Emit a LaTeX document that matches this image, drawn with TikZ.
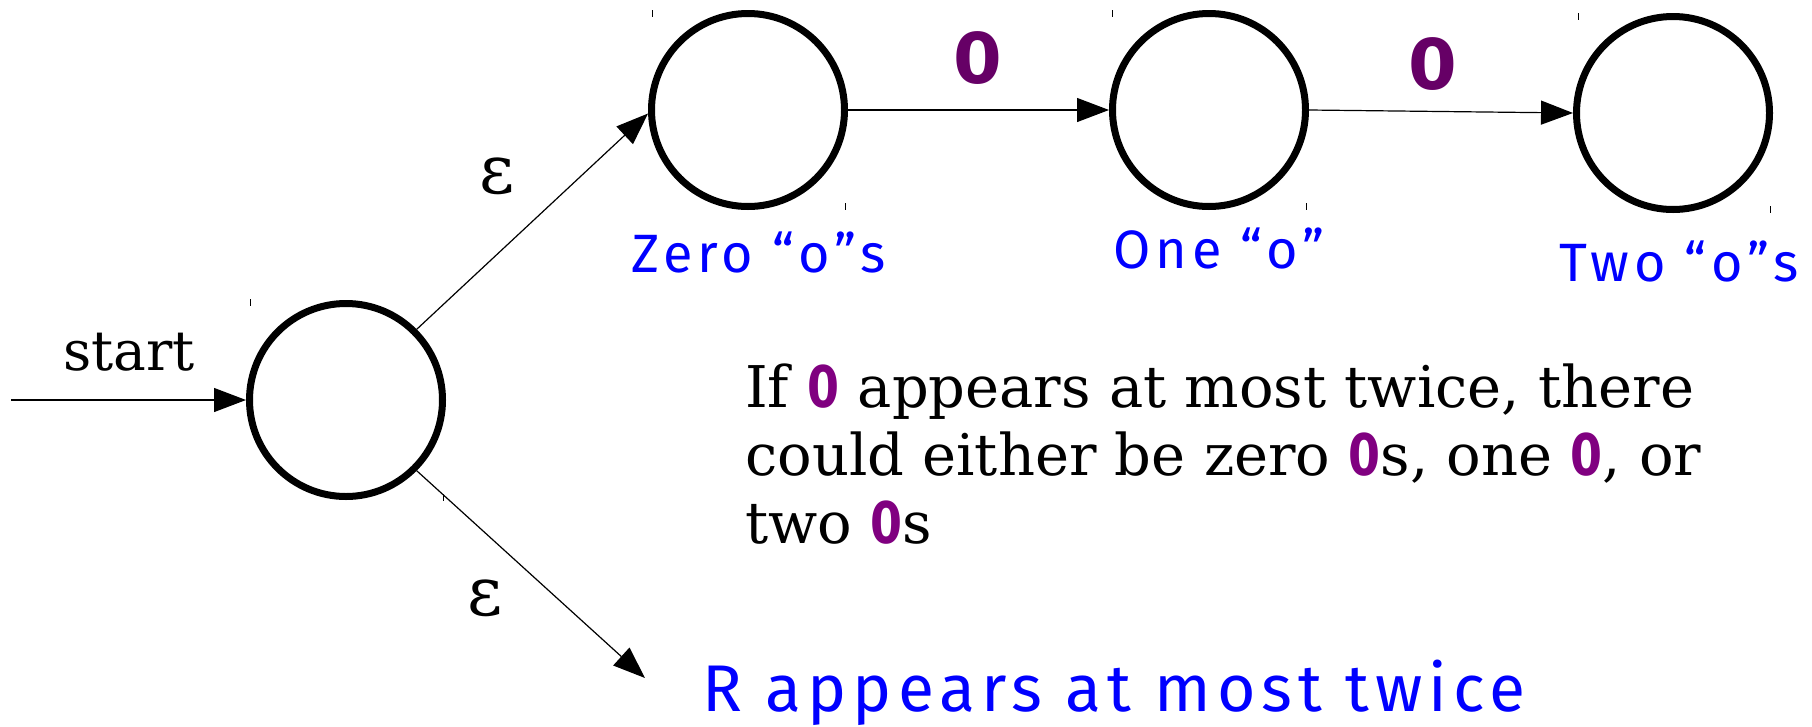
\documentclass[tikz,border=0pt]{standalone}
\usepackage{fontspec}
\setmainfont{DejaVu Serif}
\newfontfamily\zerofont{DejaVu Sans}
\newfontfamily\zerofontc[FakeStretch=0.8]{DejaVu Sans}
\newfontfamily\handfont[LetterSpace=9]{Fira Sans}
\newfontfamily\handfontb[LetterSpace=9]{Fira Sans}
\usetikzlibrary{arrows.meta}
\definecolor{handblue}{RGB}{0,0,255}
\definecolor{zdark}{RGB}{102,0,102}
\definecolor{zlight}{RGB}{128,0,128}
\newcommand{\zz}{{\zerofontc\bfseries\color{zlight}0}}
\begin{document}
\begin{tikzpicture}[x=1pt,y=-1pt,
  state/.style={circle,draw,line width=7pt,minimum size=193pt,inner sep=0pt},
  conn/.style={line width=1.2pt,-{Triangle[length=32pt,width=24pt]}},
  epslabel/.style={font=\fontsize{68}{68}\selectfont},
  zerolabel/.style={font=\fontsize{70}{70}\selectfont\zerofont\bfseries,text=zdark},
  handlabel/.style={font=\fontsize{54}{54}\selectfont\handfont,text=handblue},
  para/.style={font=\fontsize{57.5}{68}\selectfont,align=left,inner sep=0pt},
  tickmark/.style={line width=1pt}]
\useasboundingbox (0,0) rectangle (1812,726);
% states
\node[state] (s) at (346,400) {};
\node[state] (z) at (748,110) {};
\node[state] (o) at (1209,110) {};
\node[state] (t) at (1673,113) {};
% tick marks
\draw[tickmark] (250,299) -- (250,306);
\draw[tickmark] (443,494) -- (443,501);
\draw[tickmark] (652,10) -- (652,17);
\draw[tickmark] (845,203) -- (845,210);
\draw[tickmark] (1112,10) -- (1112,17);
\draw[tickmark] (1306,203) -- (1306,210);
\draw[tickmark] (1578,13) -- (1578,20);
\draw[tickmark] (1770,206) -- (1770,213);
% connectors
\coordinate (in) at (11,400);
\coordinate (out) at (645,678);
\draw[conn] (in) -- (s.west);
\draw[conn] (s.45) -- (z.182);
\draw[conn] (s.-45) -- (out);
\draw[conn] (z.east) -- (o.west);
\draw[conn] (o.east) -- (t.west);
% labels
\node[font=\fontsize{55}{55}\selectfont] (startlbl) at (129,352) {start};
\node[epslabel] (e1) at (497,176) {ε};
\node[epslabel] (e2) at (485,598) {ε};
\node[zerolabel] (l1) at (978,58) {0};
\node[zerolabel] (l2) at (1433,64) {0};
\node[handlabel] (hz) at (759,252) {Zero “o”s};
\node[handlabel] (ho) at (1219,248) {One “o”};
\node[handlabel] (ht) at (1679,261) {Two “o”s};
\node[handlabel,anchor=base west,font=\fontsize{66}{66}\selectfont\handfontb] (hr) at (699,711) {R appears at most twice};
\node[para,anchor=base west] (p) at (745,543) {If \zz{} appears at most twice, there\\could either be zero \zz s, one \zz, or\\two \zz s};
\end{tikzpicture}
\end{document}
